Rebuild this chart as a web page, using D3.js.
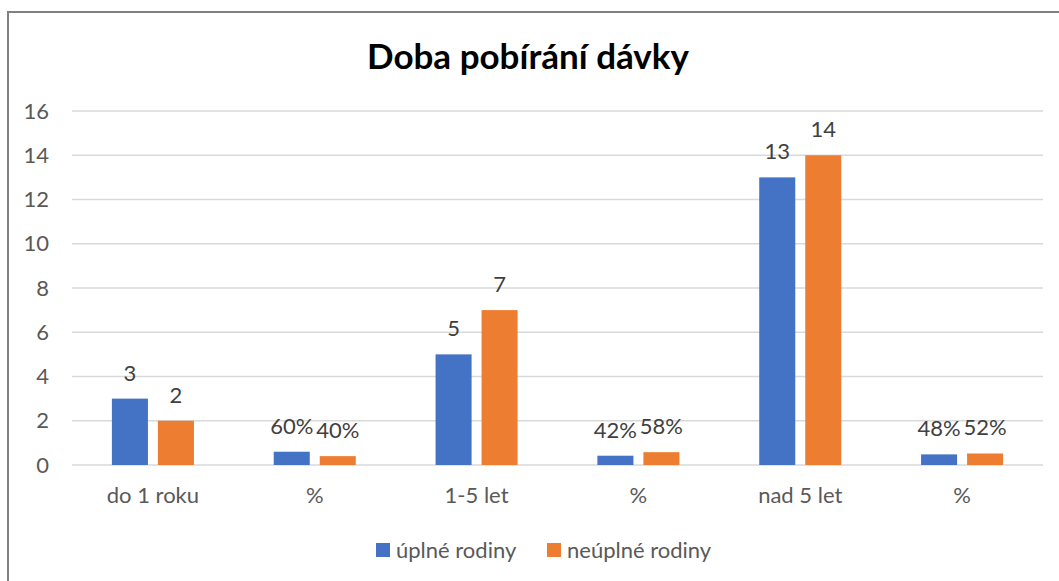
<!DOCTYPE html>
<html>
<head>
<meta charset="utf-8">
<script src="https://cdn.jsdelivr.net/npm/d3@7"></script>
<style>
  body { margin: 0; background: #fff; }
  svg { font-family: Lato, "Open Sans", sans-serif; }
</style>
</head>
<body>
<div id="chart"></div>
<script>
// Data
var categories = ["do 1 roku", "%", "1-5 let", "%", "nad 5 let", "%"];
var seriesNames = ["úplné rodiny", "neúplné rodiny"];
var uplne = [3, 0.6, 5, 0.42, 13, 0.48];
var neuplne = [2, 0.4, 7, 0.58, 14, 0.52];
var uplneLabels = ["3", "60%", "5", "42%", "13", "48%"];
var neuplneLabels = ["2", "40%", "7", "58%", "14", "52%"];
var yTicks = [0, 2, 4, 6, 8, 10, 12, 14, 16];
var colors = ["#4472c4", "#ed7d31"];

var width = 1059, height = 581;
var plot = {left: 72, right: 1043, top: 111, bottom: 465};

var svg = d3.select("#chart").append("svg")
    .attr("width", width)
    .attr("height", height);

// Chart border (cut off at right and bottom)
svg.append("rect")
    .attr("x", 8).attr("y", 12)
    .attr("width", width).attr("height", height)
    .attr("fill", "none")
    .attr("stroke", "#808080")
    .attr("stroke-width", 2);

// Title
svg.append("text")
    .attr("x", 528).attr("y", 69)
    .attr("text-anchor", "middle")
    .style("font-size", "35px")
    .style("font-weight", "bold")
    .attr("fill", "#000")
    .text("Doba pobírání dávky");

var x = d3.scaleBand()
    .domain(d3.range(categories.length))
    .range([plot.left, plot.right]);

var xInner = d3.scaleBand()
    .domain([0, 1])
    .range([0, x.bandwidth()])
    .paddingInner(0.217)
    .paddingOuter(0.867);

var y = d3.scaleLinear()
    .domain([0, 16])
    .range([plot.bottom, plot.top]);

// Gridlines
svg.append("g")
    .selectAll("line")
    .data(yTicks)
    .join("line")
        .attr("x1", plot.left).attr("x2", plot.right)
        .attr("y1", d => y(d)).attr("y2", d => y(d))
        .attr("stroke", "#d9d9d9")
        .attr("stroke-width", 1.5);

// Y tick labels
svg.append("g")
    .selectAll("text")
    .data(yTicks)
    .join("text")
        .attr("x", 49)
        .attr("y", d => y(d))
        .attr("dy", "0.35em")
        .attr("text-anchor", "end")
        .attr("fill", "#595959")
        .style("font-size", "22px")
        .text(d => d);

// Bars
var series = [uplne, neuplne];
var labels = [uplneLabels, neuplneLabels];

series.forEach(function(vals, s) {
    svg.append("g")
        .selectAll("rect")
        .data(vals)
        .join("rect")
            .attr("x", (d, i) => x(i) + xInner(s))
            .attr("width", xInner.bandwidth())
            .attr("y", d => y(d))
            .attr("height", d => y(0) - y(d))
            .attr("fill", colors[s]);

    svg.append("g")
        .selectAll("text")
        .data(vals)
        .join("text")
            .attr("x", (d, i) => x(i) + xInner(s) + xInner.bandwidth() / 2)
            .attr("y", d => y(d) - 18)
            .attr("text-anchor", "middle")
            .attr("fill", "#404040")
            .style("font-size", "22px")
            .text((d, i) => labels[s][i]);
});

// Category labels
svg.append("g")
    .selectAll("text")
    .data(categories)
    .join("text")
        .attr("x", (d, i) => x(i) + x.bandwidth() / 2)
        .attr("y", 503)
        .attr("text-anchor", "middle")
        .attr("fill", "#595959")
        .style("font-size", "22px")
        .text(d => d);

// Legend
var legendX = [376, 547];
var legend = svg.append("g")
    .selectAll("g")
    .data(seriesNames)
    .join("g")
        .attr("transform", (d, i) => "translate(" + legendX[i] + ",543)");

legend.append("rect")
    .attr("width", 14).attr("height", 14)
    .attr("fill", (d, i) => colors[i]);

legend.append("text")
    .attr("x", 20).attr("y", 7)
    .attr("dy", "0.35em")
    .attr("fill", "#595959")
    .style("font-size", "22px")
    .text(d => d);
</script>
</body>
</html>
